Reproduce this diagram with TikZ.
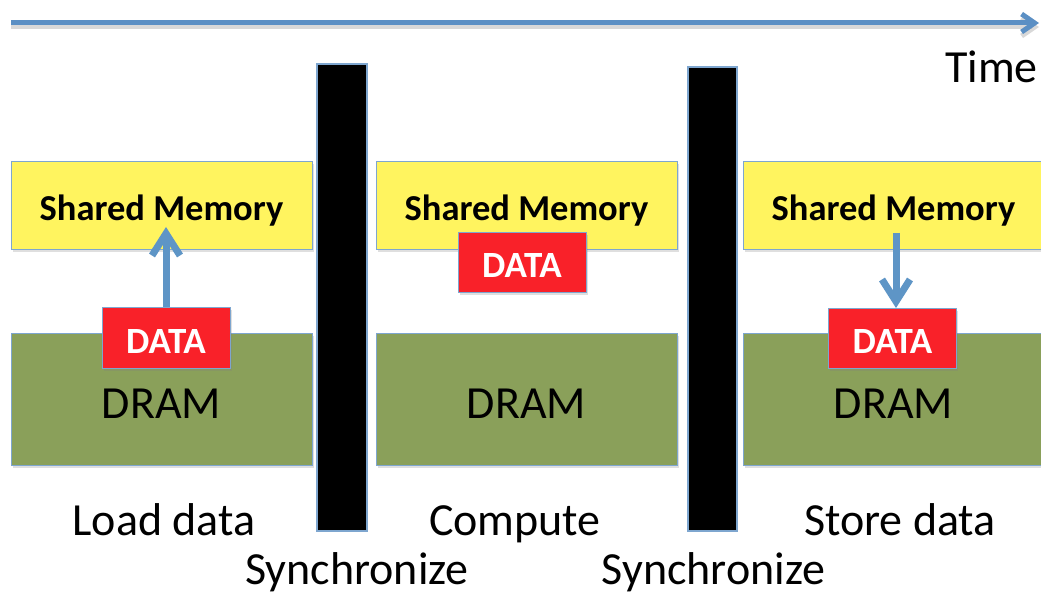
\documentclass[tikz,border=0pt]{standalone}
\usepackage{fontspec}
\setmainfont{Carlito}
\usetikzlibrary{arrows.meta,shadows}

\definecolor{memyellow}{HTML}{FFF45F}
\definecolor{dramgreen}{HTML}{8AA05A}
\definecolor{datared}{HTML}{F92129}
\definecolor{boxedge}{HTML}{7EA6CF}
\definecolor{flowblue}{HTML}{5E95C6}
\definecolor{timeblue}{HTML}{5B8FC4}

\begin{document}
\begin{tikzpicture}[x=1pt,y=-1pt,
  box/.style={draw=boxedge, line width=1pt, inner sep=0pt,
    drop shadow={shadow xshift=1.5pt, shadow yshift=-2.5pt, opacity=0.25}},
  smem/.style={box, fill=memyellow, minimum width=301pt, minimum height=88pt,
    font=\fontsize{36.5}{40}\selectfont\bfseries, text height=38pt, text depth=8pt},
  dram/.style={box, fill=dramgreen, minimum width=301pt, minimum height=131pt,
    font=\fontsize{46}{50}\selectfont, text height=44pt, text depth=7pt},
  datab/.style={box, fill=datared, text=white, minimum width=128pt, minimum height=60pt,
    font=\fontsize{37}{40}\selectfont\bfseries, text height=34pt, text depth=4pt},
  syncbar/.style={draw=boxedge, fill=black, line width=1.5pt, inner sep=0pt},
  lbl/.style={font=\fontsize{46}{50}\selectfont, anchor=base, inner sep=0pt},
  flow/.style={draw=flowblue, line width=7pt, -{Straight Barb[length=22pt,width=28pt]}},
]
\useasboundingbox (0,0) rectangle (1041,601);
\clip (0,0) rectangle (1041,601);

% time axis
\coordinate (t0) at (11,23);
\coordinate (t1) at (1039,23);
\draw[line width=5pt, black!30, opacity=0.5, transform canvas={yshift=-4pt},
  -{Straight Barb[length=13pt,width=18pt]}] (t0) -- (t1);
\draw[line width=5pt, timeblue, -{Straight Barb[length=13pt,width=18pt]}] (t0) -- (t1);
\node[lbl, anchor=base west] (time) at (945,83) {Time};

% synchronization barriers
\node[syncbar, minimum width=50pt, minimum height=467pt] (bar1) at (342,297.5) {};
\node[syncbar, minimum width=49pt, minimum height=464pt] (bar2) at (712.5,299) {};

% phase 1: load data
\node[smem] (smL) at (161.5,206) {Shared Memory};
\node[dram] (drL) at (161.5,399.5) {DRAM};
\node[datab] (daL) at (166,338) {DATA};
\coordinate (tipL) at (166,227);
\draw[flow] (daL.north) -- (daL.north |- tipL);

% phase 2: compute
\node[smem] (smM) at (526.5,206) {Shared Memory};
\node[dram] (drM) at (526.5,399.5) {DRAM};
\node[datab] (daM) at (522,262.5) {DATA};

% phase 3: store data
\node[smem] (smR) at (893.5,206) {Shared Memory};
\node[dram] (drR) at (893.5,399.5) {DRAM};
\node[datab] (daR) at (892.5,338.5) {DATA};
\coordinate (srcR) at (896,233);
\draw[flow] (srcR) -- (srcR |- daR.north);

% phase captions
\node[lbl] (capL) at (164,535) {Load data};
\node[lbl] (capM) at (515,535) {Compute};
\node[lbl] (capR) at (900,535) {Store data};
\node[lbl] (sync1) at (357,584) {Synchronize};
\node[lbl] (sync2) at (713.5,584) {Synchronize};
\end{tikzpicture}
\end{document}
